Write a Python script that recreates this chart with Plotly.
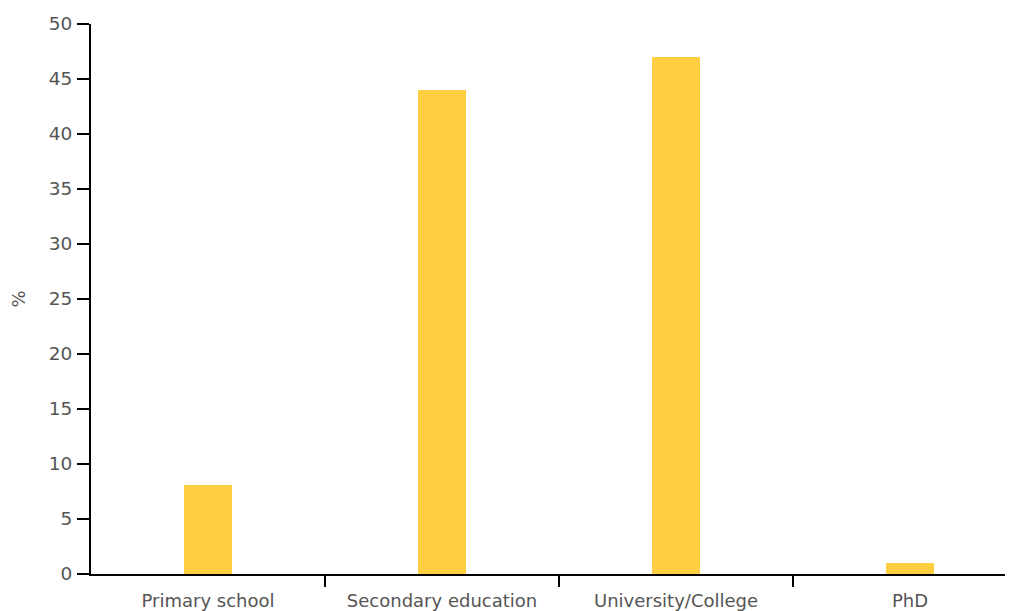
import plotly.graph_objects as go

categories = ["Primary school", "Secondary education", "University/College", "PhD"]
values = [8.1, 44.0, 47.0, 1.0]
y_ticks = [0, 5, 10, 15, 20, 25, 30, 35, 40, 45, 50]
boundaries = [0.5, 1.5, 2.5]

positions = list(range(len(categories)))

FONT = "DejaVu Sans"
GRAY = "#555555"

fig = go.Figure()
fig.add_trace(go.Bar(
    x=positions, y=values, width=0.205,
    marker=dict(color="#FDCF41", line=dict(width=0)),
    showlegend=False, hoverinfo="skip",
))
# invisible trace for the boundary tick axis
fig.add_trace(go.Scatter(x=[0], y=[0], xaxis="x2", mode="markers",
                         marker=dict(opacity=0), showlegend=False, hoverinfo="skip"))

# the page body adds an 8px offset, so the figure is 8px smaller
xr = [-0.5, 3.44]
fig.update_layout(
    width=1005, height=603,
    margin=dict(l=83, r=0, t=16, b=37),
    plot_bgcolor="white", paper_bgcolor="white",
    font=dict(family=FONT, size=18, color=GRAY),
    xaxis=dict(
        range=xr, tickmode="array", tickvals=positions, ticktext=categories,
        ticks="", showgrid=False, zeroline=False, automargin=False,
        showline=True, linecolor="black", linewidth=2,
        ticklabelstandoff=9,
        tickfont=dict(family=FONT, size=18, color=GRAY),
    ),
    xaxis2=dict(
        range=xr, overlaying="x", side="bottom", anchor="y", automargin=False,
        tickmode="array", tickvals=boundaries, showticklabels=False,
        ticks="outside", ticklen=12, tickwidth=2, tickcolor="black",
        showgrid=False, zeroline=False, showline=False,
    ),
    yaxis=dict(
        range=[0, 50], tickmode="array", tickvals=y_ticks, automargin=False,
        ticks="outside", ticklen=12, tickwidth=2, tickcolor="black",
        showgrid=False, zeroline=False,
        showline=True, linecolor="black", linewidth=2,
        ticklabelstandoff=1,
        tickfont=dict(family=FONT, size=18.5, color=GRAY),
        title=dict(text="%", font=dict(family=FONT, size=18, color=GRAY), standoff=24),
    ),
)

fig.write_html("out.html")
